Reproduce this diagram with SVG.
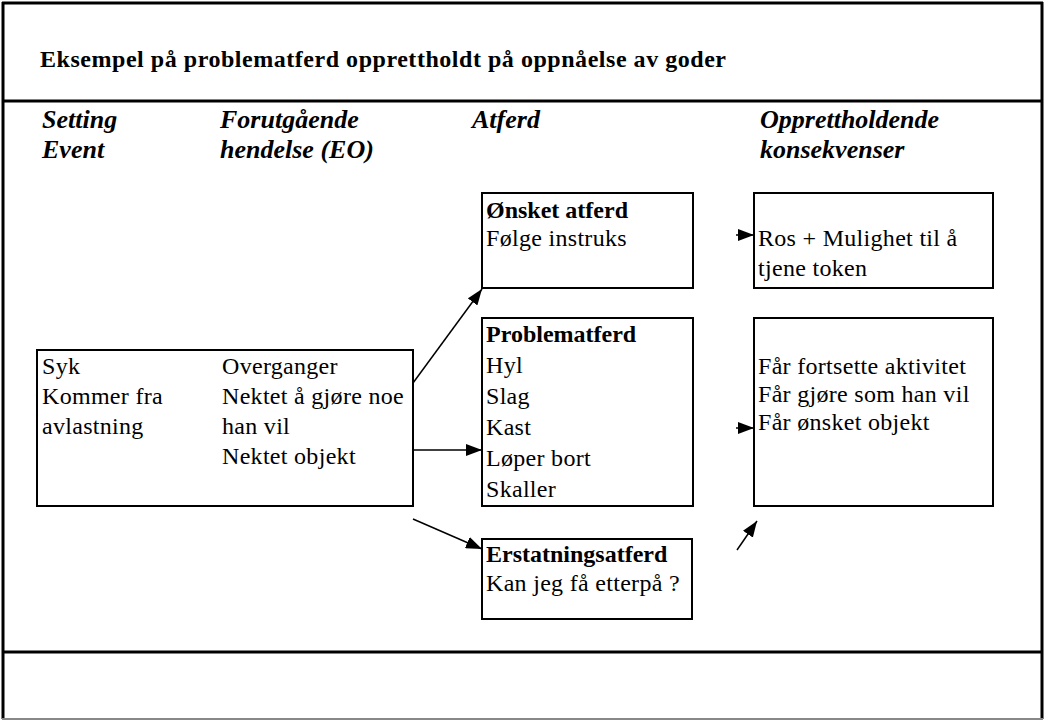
<svg xmlns="http://www.w3.org/2000/svg" width="1045" height="720" viewBox="0 0 1045 720">
<defs>
<style>
.frame{stroke:#000;stroke-width:3;fill:none}
.box{fill:#fff;stroke:#000;stroke-width:2}
.t{font-family:"Liberation Serif","Times New Roman","DejaVu Serif",serif;font-size:24px;letter-spacing:0.3px;fill:#000}
.b{font-weight:bold;letter-spacing:0}
.h{font-family:"Liberation Serif","Times New Roman","DejaVu Serif",serif;font-size:26px;font-weight:bold;font-style:italic;fill:#000}
.title{font-family:"Liberation Serif","Times New Roman","DejaVu Serif",serif;font-size:24px;font-weight:bold;fill:#000}
.conn{stroke:#000;stroke-width:1.5;fill:none}
</style>
<marker id="ah" viewBox="0 0 16 12" refX="16" refY="6" markerWidth="16" markerHeight="12" markerUnits="userSpaceOnUse" orient="auto">
<path d="M0,0 L16,6 L0,12 Z" fill="#000"/>
</marker>
</defs>
<rect x="0" y="0" width="1045" height="720" fill="#fff"/>
<g id="frame">
<line class="frame" x1="2" y1="3" x2="1043" y2="3"/>
<line class="frame" x1="3" y1="2" x2="3" y2="719"/>
<line class="frame" x1="1042" y1="2" x2="1042" y2="719"/>
<line x1="2" y1="719" x2="1043" y2="719" stroke="#888" stroke-width="2"/>
<line class="frame" x1="2" y1="101" x2="1043" y2="101"/>
<line class="frame" x1="2" y1="652" x2="1043" y2="652"/>
</g>
<g id="title"><text class="title" x="40" y="67" textLength="686">Eksempel på problematferd opprettholdt på oppnåelse av goder</text></g>
<g id="headers">
<text class="h" x="42" y="128">Setting</text>
<text class="h" x="42" y="158">Event</text>
<text class="h" x="220" y="128">Forutgående</text>
<text class="h" x="220" y="158">hendelse (EO)</text>
<text class="h" x="472" y="128">Atferd</text>
<text class="h" x="760" y="128">Opprettholdende</text>
<text class="h" x="760" y="158">konsekvenser</text>
</g>
<g id="connectors">
<line class="conn" x1="413" y1="383" x2="482" y2="289" marker-end="url(#ah)"/>
<line class="conn" x1="413" y1="450" x2="482" y2="450" marker-end="url(#ah)"/>
<line class="conn" x1="413" y1="519" x2="482" y2="549" marker-end="url(#ah)"/>
<line class="conn" x1="736" y1="235" x2="754" y2="235" marker-end="url(#ah)"/>
<line class="conn" x1="736" y1="428" x2="754" y2="428" marker-end="url(#ah)"/>
<line class="conn" x1="737" y1="550" x2="757" y2="521" marker-end="url(#ah)"/>
</g>
<g id="node-antecedent">
<rect class="box" x="37" y="350" width="376" height="156"/>
<text class="t" x="42" y="374">Syk</text>
<text class="t" x="42" y="404">Kommer fra</text>
<text class="t" x="42" y="434">avlastning</text>
<text class="t" x="222" y="374">Overganger</text>
<text class="t" x="222" y="404">Nektet å gjøre noe</text>
<text class="t" x="222" y="434">han vil</text>
<text class="t" x="222" y="464">Nektet objekt</text>
</g>
<g id="node-onsket">
<rect class="box" x="482" y="193" width="211" height="95"/>
<text class="t b" x="486" y="218">Ønsket atferd</text>
<text class="t" x="486" y="246">Følge instruks</text>
</g>
<g id="node-problem">
<rect class="box" x="482" y="318" width="211" height="188"/>
<text class="t b" x="486" y="342">Problematferd</text>
<text class="t" x="486" y="373">Hyl</text>
<text class="t" x="486" y="404">Slag</text>
<text class="t" x="486" y="435">Kast</text>
<text class="t" x="486" y="466">Løper bort</text>
<text class="t" x="486" y="497">Skaller</text>
</g>
<g id="node-erstatning">
<rect class="box" x="482" y="539" width="210" height="80"/>
<text class="t b" x="486" y="562">Erstatningsatferd</text>
<text class="t" x="486" y="591">Kan jeg få etterpå ?</text>
</g>
<g id="node-ros">
<rect class="box" x="754" y="193" width="239" height="95"/>
<text class="t" x="758" y="246">Ros + Mulighet til å</text>
<text class="t" x="758" y="276">tjene token</text>
</g>
<g id="node-far">
<rect class="box" x="754" y="318" width="239" height="188"/>
<text class="t" x="758" y="374">Får fortsette aktivitet</text>
<text class="t" x="758" y="402">Får gjøre som han vil</text>
<text class="t" x="758" y="430">Får ønsket objekt</text>
</g>
</svg>
